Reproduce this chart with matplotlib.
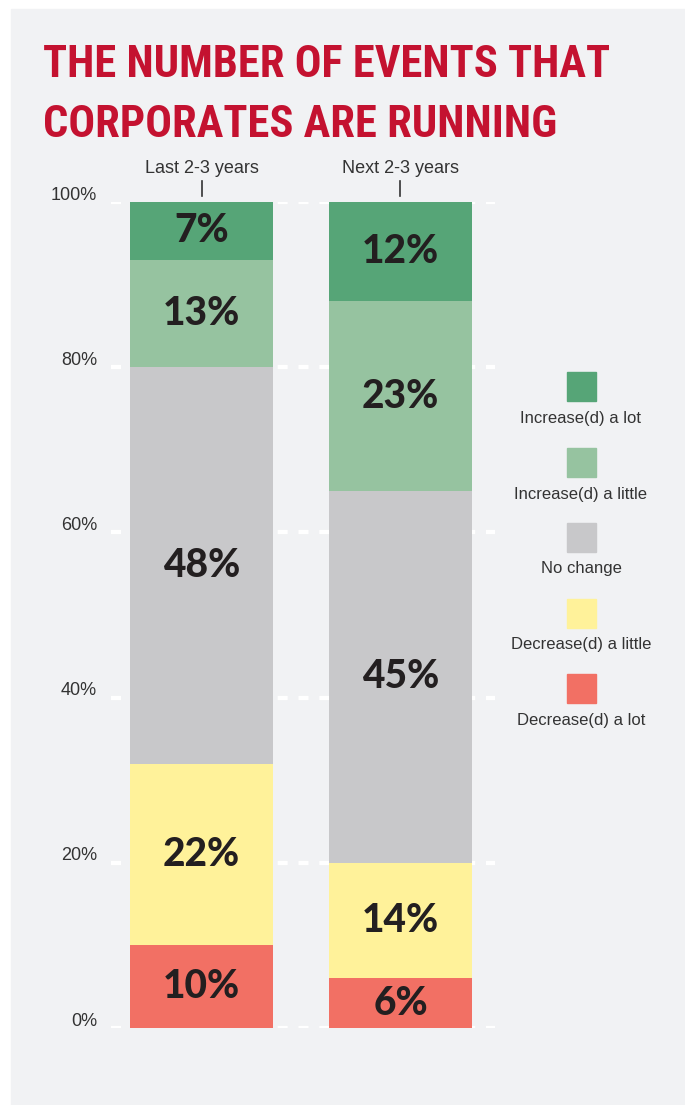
import numpy as np
import matplotlib.pyplot as plt
from matplotlib.patches import Rectangle

# data
periods = ["Last 2-3 years", "Next 2-3 years"]
categories = ["Decrease(d) a lot", "Decrease(d) a little", "No change",
              "Increase(d) a little", "Increase(d) a lot"]
last_years = [10, 22, 48, 13, 7]
next_years = [6, 14, 45, 23, 12]
colors = ["#F27064", "#FFF29A", "#C8C8CA", "#96C3A0", "#56A577"]
yticks = [0, 20, 40, 60, 80, 100]

W, H = 685, 1105
fig = plt.figure(figsize=(W / 100, H / 100), dpi=100)
fig.patch.set_facecolor("white")

# grey background panel
fig.patches.append(Rectangle((11 / W, 0), 1 - 11 / W, 1 - 9 / H,
                             transform=fig.transFigure, color="#F1F2F4", zorder=-5))

# title
for line, ty in [("THE NUMBER OF EVENTS THAT", 77), ("CORPORATES ARE RUNNING", 137)]:
    fig.text(43 / W, 1 - ty / H, line, color="#C41230",
             fontsize=32, fontweight="bold", fontstretch="condensed",
             family=["Roboto Condensed", "DejaVu Sans"], va="baseline", ha="left")

ax = fig.add_axes([111 / W, 77 / H, 384 / W, 826 / H])
ax.set_facecolor("none")
for s in ax.spines.values():
    s.set_visible(False)

x = np.arange(len(periods))
width = 0.7186
data = np.array([last_years, next_years]).T
bottom = np.zeros(len(periods))
for vals, col in zip(data, colors):
    ax.bar(x, vals, width=width, bottom=bottom, color=col, zorder=2)
    for xi, v, b in zip(x, vals, bottom):
        ax.text(xi, b + v / 2, f"{v}%", ha="center", va="center",
                fontsize=28, fontweight="black", family="Lato",
                color="#231F20", zorder=3)
    bottom += vals

# white dashed gridlines
for yv in yticks:
    ax.axhline(yv, color="white", lw=3, ls=(0, (2.4, 2.6)), zorder=1)

ax.set_xlim(-0.4548, 1.4749)
ax.set_ylim(0, 100)
ax.set_xticks([])
ax.set_yticks([])

for yv in yticks:
    ax.annotate(f"{yv}%", xy=(0, yv), xycoords=("axes fraction", "data"),
                xytext=(-10, 5), textcoords="offset points", ha="right",
                va="center", fontsize=13, color="#333333",
                family="Liberation Sans", fontstretch="normal")

for xi, p in zip(x, periods):
    ax.annotate(p, xy=(xi, 100), xytext=(0, 24), textcoords="offset points",
                ha="center", va="center", fontsize=13, color="#333333",
                family="Liberation Sans", fontstretch="normal",
                annotation_clip=False)
    ax.plot([xi, xi], [100.7, 102.5], color="#333333", lw=1.2,
            clip_on=False)

# legend
leg_sq_y = [372, 448, 523, 599, 674]
leg_txt_y = [418, 494, 569, 645, 720]
for cat, col, sy, ty in zip(categories[::-1], colors[::-1], leg_sq_y, leg_txt_y):
    fig.patches.append(Rectangle((567 / W, 1 - (sy + 29) / H), 29 / W, 29 / H,
                                 transform=fig.transFigure, color=col, zorder=2))
    fig.text(581 / W, 1 - ty / H, cat, ha="center", va="center",
             fontsize=12, color="#333333", family="Liberation Sans",
             fontstretch="normal")

plt.savefig("out.png", dpi=100)
